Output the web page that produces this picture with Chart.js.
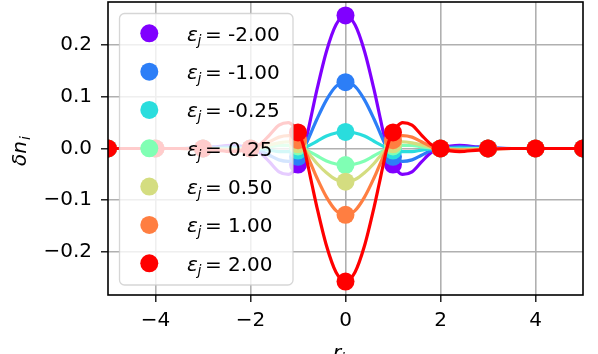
<!DOCTYPE html>
<html>
<head>
<meta charset="utf-8">
<script src="https://cdn.jsdelivr.net/npm/chart.js@4.4.0/dist/chart.umd.min.js"></script>
<style>
  body { margin: 0; background: #fff; }
  #wrap { width: 598px; height: 354px; }
</style>
</head>
<body>
<div id="wrap"><canvas id="myChart" width="598" height="354"></canvas></div>
<script>
// sample positions of the smooth curves (denser where they bend)
const xDense = [-5, -3.5, -2.8, -2.4, -2, -1.8, -1.6, -1.4, -1.2, -1.1, -1, -0.9, -0.8, -0.7, -0.6, -0.4, -0.2,
    0, 0.2, 0.4, 0.6, 0.7, 0.8, 0.9, 1, 1.1, 1.2, 1.4, 1.6, 1.8, 2, 2.4, 2.8, 3.5, 5];

// lattice sites (markers)
const xSites = [-5, -4, -3, -2, -1, 0, 1, 2, 3, 4, 5];

const epsLabels = ['-2.00', '-1.00', '-0.25', '0.25', '0.50', '1.00', '2.00'];
const colors = ['#8000ff', '#2c7ef7', '#2adddd', '#80ffb4', '#d4dd80', '#ff7e41', '#ff0000'];

const xTicks = [-4, -2, 0, 2, 4];
const yTicks = [-0.2, -0.1, 0, 0.1, 0.2];

// curves
const curveM200 = [0.000, 0.000, 0.003, 0.006, 0.000, -0.008, -0.026, -0.045, -0.050, -0.044, -0.031, -0.010, 0.029, 0.072, 0.114, 0.188, 0.239,
    0.257, 0.239, 0.188, 0.114, 0.072, 0.029, -0.010, -0.031, -0.044, -0.050, -0.045, -0.026, -0.008, 0.000, 0.006, 0.003, 0.000, 0.000];
const curveM100 = [0.000, 0.000, 0.002, 0.003, 0.000, -0.004, -0.013, -0.022, -0.025, -0.022, -0.016, -0.005, 0.015, 0.036, 0.057, 0.094, 0.120,
    0.128, 0.120, 0.094, 0.057, 0.036, 0.015, -0.005, -0.016, -0.022, -0.025, -0.022, -0.013, -0.004, 0.000, 0.003, 0.002, 0.000, 0.000];
const curveM025 = [0.000, 0.000, 0.000, 0.001, 0.000, -0.001, -0.003, -0.006, -0.006, -0.006, -0.004, -0.001, 0.004, 0.009, 0.014, 0.024, 0.030,
    0.032, 0.030, 0.024, 0.014, 0.009, 0.004, -0.001, -0.004, -0.006, -0.006, -0.006, -0.003, -0.001, 0.000, 0.001, 0.000, 0.000, 0.000];
const curveP025 = [0.000, 0.000, 0.000, -0.001, 0.000, 0.001, 0.003, 0.006, 0.006, 0.006, 0.004, 0.001, -0.004, -0.009, -0.014, -0.024, -0.030,
    -0.032, -0.030, -0.024, -0.014, -0.009, -0.004, 0.001, 0.004, 0.006, 0.006, 0.006, 0.003, 0.001, 0.000, -0.001, 0.000, 0.000, 0.000];
const curveP050 = [0.000, 0.000, -0.001, -0.002, 0.000, 0.002, 0.007, 0.011, 0.013, 0.011, 0.008, 0.003, -0.007, -0.018, -0.029, -0.047, -0.060,
    -0.064, -0.060, -0.047, -0.029, -0.018, -0.007, 0.003, 0.008, 0.011, 0.013, 0.011, 0.007, 0.002, 0.000, -0.002, -0.001, 0.000, 0.000];
const curveP100 = [0.000, 0.000, -0.002, -0.003, 0.000, 0.004, 0.013, 0.022, 0.025, 0.022, 0.016, 0.005, -0.015, -0.036, -0.057, -0.094, -0.120,
    -0.128, -0.120, -0.094, -0.057, -0.036, -0.015, 0.005, 0.016, 0.022, 0.025, 0.022, 0.013, 0.004, 0.000, -0.003, -0.002, 0.000, 0.000];
const curveP200 = [0.000, 0.000, -0.003, -0.006, 0.000, 0.008, 0.026, 0.045, 0.050, 0.044, 0.031, 0.010, -0.029, -0.072, -0.114, -0.188, -0.239,
    -0.257, -0.239, -0.188, -0.114, -0.072, -0.029, 0.010, 0.031, 0.044, 0.050, 0.045, 0.026, 0.008, 0.000, -0.006, -0.003, 0.000, 0.000];

// values at the sites
const siteM200 = [0, 0, 0, 0, -0.031, 0.257, -0.031, 0, 0, 0, 0];
const siteM100 = [0, 0, 0, 0, -0.016, 0.128, -0.016, 0, 0, 0, 0];
const siteM025 = [0, 0, 0, 0, -0.004, 0.032, -0.004, 0, 0, 0, 0];
const siteP025 = [0, 0, 0, 0, 0.004, -0.032, 0.004, 0, 0, 0, 0];
const siteP050 = [0, 0, 0, 0, 0.008, -0.064, 0.008, 0, 0, 0, 0];
const siteP100 = [0, 0, 0, 0, 0.016, -0.128, 0.016, 0, 0, 0, 0];
const siteP200 = [0, 0, 0, 0, 0.031, -0.257, 0.031, 0, 0, 0, 0];

const curves = [curveM200, curveM100, curveM025, curveP025, curveP050, curveP100, curveP200];
const sites = [siteM200, siteM100, siteM025, siteP025, siteP050, siteP100, siteP200];

//__________________________________________________________

const FONT = '"DejaVu Sans", "Liberation Sans", sans-serif';
const MARKER_R = 9;

const datasets = [];
for (let i = 0; i < curves.length; i++) {
    // matplotlib draws line then markers, series after series -> later ones on top
    datasets.push({
        data: xDense.map((x, k) => ({ x: x, y: curves[i][k] })),
        borderColor: colors[i],
        borderWidth: 3.2,
        pointRadius: 0,
        cubicInterpolationMode: 'monotone',
        clip: 0,
        order: 40 - 2 * i
    });
    datasets.push({
        data: xSites.map((x, k) => ({ x: x, y: sites[i][k] })),
        showLine: false,
        pointRadius: MARKER_R,
        pointBackgroundColor: colors[i],
        pointBorderWidth: 0,
        clip: 0,
        order: 39 - 2 * i
    });
}

function minusSign(str) {
    return str.replace('-', '\u2212');
}

// frame, legend and axis titles (need subscripts, so drawn by hand)
const extras = {
    id: 'extras',
    afterDatasetsDraw(chart) {
        const ctx = chart.ctx;
        const a = chart.chartArea;
        ctx.save();

        // spines
        ctx.strokeStyle = '#000';
        ctx.lineWidth = 1.6;
        ctx.strokeRect(a.left, a.top, a.right - a.left, a.bottom - a.top);

        // legend box
        const bx = 119.5, by = 13.5, bw = 173.5, bh = 271.5;
        ctx.beginPath();
        ctx.roundRect(bx, by, bw, bh, 5);
        ctx.fillStyle = 'rgba(255,255,255,0.8)';
        ctx.fill();
        ctx.strokeStyle = 'rgba(204,204,204,0.8)';
        ctx.lineWidth = 1.3;
        ctx.stroke();

        for (let i = 0; i < epsLabels.length; i++) {
            const cy = 33.3 + i * 38.33;
            ctx.beginPath();
            ctx.arc(149.3, cy, MARKER_R, 0, Math.PI * 2);
            ctx.fillStyle = colors[i];
            ctx.fill();

            const base = cy + 7.4;
            ctx.fillStyle = '#000';
            ctx.textBaseline = 'alphabetic';
            ctx.textAlign = 'left';
            ctx.font = 'italic 20px ' + FONT;
            ctx.fillText('\u03b5', 187, base);
            ctx.font = 'italic 14px ' + FONT;
            ctx.fillText('j', 197.5, base + 4);
            ctx.font = '20px ' + FONT;
            ctx.fillText('=', 205, base);
            ctx.fillText(epsLabels[i], 228, base);
        }

        // y title
        ctx.save();
        ctx.translate(26, 166);
        ctx.rotate(-Math.PI / 2);
        ctx.fillStyle = '#000';
        ctx.font = 'italic 20px ' + FONT;
        ctx.fillText('\u03b4n', 0, 0);
        const w = ctx.measureText('\u03b4n').width;
        ctx.font = 'italic 14px ' + FONT;
        ctx.fillText('i', w + 1, 4);
        ctx.restore();

        // x title
        ctx.fillStyle = '#000';
        ctx.font = 'italic 20px ' + FONT;
        ctx.fillText('r', 333, 359);
        ctx.font = 'italic 14px ' + FONT;
        ctx.fillText('ix', 341, 363);

        ctx.restore();
    }
};

const gridStyle = {
    color: '#b0b0b0',
    lineWidth: 1.6,
    tickColor: '#000',
    tickWidth: 1.3,
    tickLength: 7
};

const config = {
    type: 'line',
    data: { datasets: datasets },
    options: {
        responsive: false,
        animation: false,
        devicePixelRatio: 1,
        events: [],
        layout: { autoPadding: false, padding: { left: 0, right: 15, top: 2, bottom: 0 } },
        plugins: {
            legend: { display: false },
            tooltip: { enabled: false }
        },
        scales: {
            x: {
                type: 'linear',
                min: -5,
                max: 5,
                afterBuildTicks: (scale) => { scale.ticks = xTicks.map(v => ({ value: v })); },
                afterFit: (scale) => {
                    scale.height = 59;
                    scale.paddingLeft = 0;
                    scale.paddingRight = 0;
                },
                grid: gridStyle,
                border: { display: false },
                ticks: {
                    color: '#000',
                    padding: 7,
                    maxRotation: 0,
                    font: { family: FONT, size: 20 },
                    callback: (v) => minusSign(String(v))
                }
            },
            y: {
                type: 'linear',
                min: -0.283,
                max: 0.283,
                afterBuildTicks: (scale) => { scale.ticks = yTicks.map(v => ({ value: v })); },
                afterFit: (scale) => {
                    scale.width = 108;
                    scale.paddingTop = 0;
                    scale.paddingBottom = 0;
                },
                grid: gridStyle,
                border: { display: false },
                ticks: {
                    color: '#000',
                    padding: 9,
                    font: { family: FONT, size: 20 },
                    callback: (v) => minusSign(Number(v).toFixed(1))
                }
            }
        }
    },
    plugins: [extras]
};

const myChart = new Chart(document.getElementById('myChart'), config);
</script>
</body>
</html>
